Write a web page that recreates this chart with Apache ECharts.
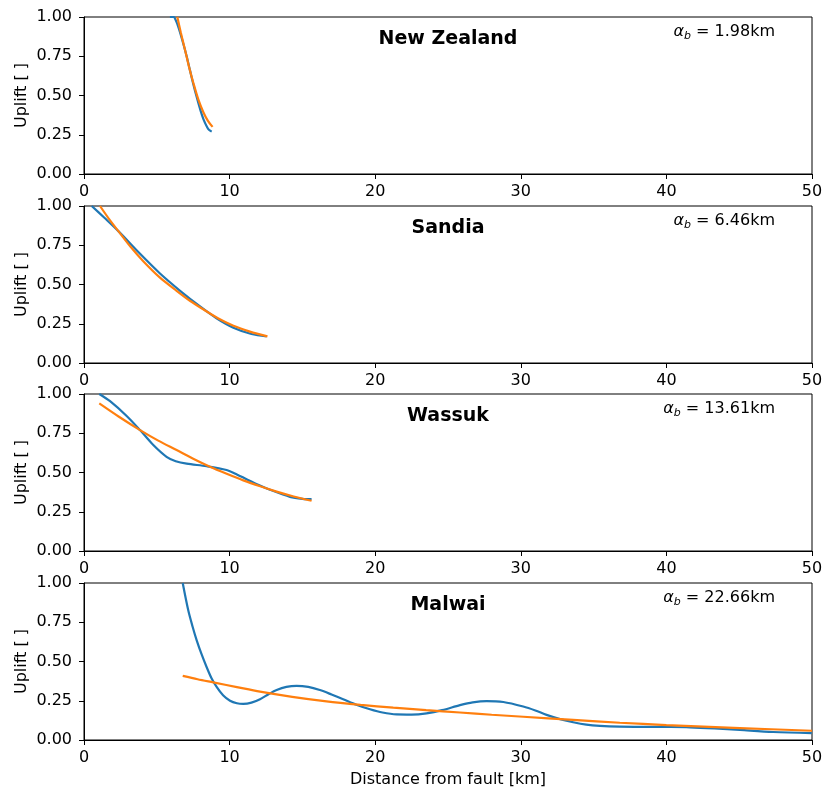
<!DOCTYPE html>
<html>
<head>
<meta charset="utf-8">
<script src="https://cdn.jsdelivr.net/npm/echarts@6/dist/echarts.min.js"></script>
<style>
  html, body { margin: 0; padding: 0; background: #fff; }
  #chart { width: 822px; height: 791px; }
</style>
</head>
<body>
<div id="chart"></div>
<script>
// panel names and fitted alpha_b values
const panelNames = ['New Zealand', 'Sandia', 'Wassuk', 'Malwai'];
const alphaLabels = ['1.98', '6.46', '13.61', '22.66'];

// observed uplift profiles (blue), [distance km, uplift]
const nzObserved = [[5.9, 1.0], [6.15, 1.0], [6.3, 0.98], [6.5, 0.93], [6.82, 0.83], [7.05, 0.75], [7.28, 0.66], [7.5, 0.575], [7.74, 0.49], [8.0, 0.405], [8.2, 0.35], [8.45, 0.3], [8.6, 0.28], [8.77, 0.27]];
const sandiaObserved = [[0.53, 1.0], [1.4, 0.925], [2.36, 0.84], [3.8, 0.7], [5.22, 0.57], [6.6, 0.46], [7.97, 0.36], [9.1, 0.285], [10.26, 0.225], [11.5, 0.185], [12.54, 0.17]];
const wassukObserved = [[1.05, 1.0], [1.79, 0.954], [2.93, 0.86], [3.85, 0.77], [4.76, 0.675], [5.67, 0.6], [6.3, 0.572], [7.05, 0.556], [8.42, 0.54], [9.79, 0.516], [10.5, 0.488], [11.17, 0.457], [12.0, 0.42], [12.77, 0.39], [14.15, 0.345], [15.0, 0.332], [15.63, 0.33]];
const malwaiObserved = [[6.78, 1.0], [7.16, 0.826], [7.45, 0.725], [7.74, 0.635], [8.1, 0.54], [8.42, 0.465], [8.75, 0.395], [9.11, 0.338], [9.55, 0.285], [10.03, 0.25], [10.5, 0.234], [10.94, 0.23], [11.5, 0.238], [12.09, 0.26], [12.65, 0.29], [13.23, 0.318], [13.9, 0.338], [14.6, 0.345], [15.4, 0.338], [16.2, 0.318], [17.0, 0.29], [17.8, 0.26], [18.7, 0.225], [19.64, 0.196], [20.5, 0.175], [21.47, 0.163], [22.5, 0.162], [23.53, 0.17], [24.6, 0.19], [25.82, 0.222], [26.7, 0.24], [27.65, 0.248], [28.8, 0.242], [30.17, 0.213], [31.0, 0.188], [31.77, 0.16], [32.7, 0.133], [33.6, 0.113], [34.5, 0.098], [35.44, 0.09], [36.8, 0.085], [38.19, 0.084], [40.0, 0.083], [41.6, 0.081], [43.3, 0.074], [45.05, 0.064], [47.34, 0.051], [49.98, 0.044]];

// fitted curves (orange)
const nzFit = [[6.41, 1.0], [6.65, 0.9], [6.94, 0.79], [7.22, 0.68], [7.51, 0.58], [7.85, 0.475], [8.19, 0.395], [8.5, 0.34], [8.83, 0.30]];
const sandiaFit = [[1.1, 1.0], [1.7, 0.92], [2.36, 0.84], [3.2, 0.74], [4.07, 0.648], [5.2, 0.545], [6.36, 0.46], [7.3, 0.395], [8.19, 0.342], [9.2, 0.285], [10.26, 0.237], [11.4, 0.2], [12.6, 0.17]];
const wassukFit = [[1.05, 0.94], [2.4, 0.855], [3.85, 0.77], [5.1, 0.703], [6.36, 0.643], [7.5, 0.588], [8.65, 0.537], [9.8, 0.492], [10.94, 0.45], [12.1, 0.412], [13.23, 0.378], [14.4, 0.347], [15.63, 0.32]];
const malwaiFit = [[6.78, 0.408], [7.8, 0.387], [8.88, 0.367], [10.5, 0.337], [12.09, 0.308], [14.3, 0.275], [16.66, 0.246], [19.0, 0.224], [21.24, 0.206], [23.5, 0.19], [25.82, 0.175], [28.0, 0.161], [30.17, 0.148], [33.6, 0.128], [36.8, 0.11], [40.0, 0.095], [45.05, 0.076], [50.0, 0.059]];

const observed = [nzObserved, sandiaObserved, wassukObserved, malwaiObserved];
const fitted = [nzFit, sandiaFit, wassukFit, malwaiFit];

const gridTops = [17, 206, 394, 583];
const gridHeight = 157;
const font = 'DejaVu Sans';

const chart = echarts.init(document.getElementById('chart'), null, { renderer: 'canvas' });

const grids = [], xAxes = [], yAxes = [], series = [], titles = [];
panelNames.forEach((name, i) => {
  grids.push({
    left: 84, width: 728, top: gridTops[i], height: gridHeight,
    outerBoundsMode: 'none', containLabel: false,
    show: true, borderColor: '#000', borderWidth: 1, backgroundColor: 'transparent'
  });
  xAxes.push({
    type: 'value', gridIndex: i, min: 0, max: 50, interval: 10,
    axisLine: { show: true, onZero: false, lineStyle: { color: '#000', width: 1 } },
    axisTick: { show: true, length: 5, inside: false, lineStyle: { color: '#000' } },
    axisLabel: { color: '#000', fontSize: 16, fontFamily: font, margin: 10 },
    splitLine: { show: false },
    name: i === 3 ? 'Distance from fault [km]' : '',
    nameLocation: 'middle', nameGap: 32, nameMoveOverlap: false,
    nameTextStyle: { color: '#000', fontSize: 16, fontFamily: font }
  });
  yAxes.push({
    type: 'value', gridIndex: i, min: 0, max: 1, interval: 0.25,
    axisLine: { show: true, lineStyle: { color: '#000', width: 1 } },
    axisTick: { show: true, length: 5, lineStyle: { color: '#000' } },
    axisLabel: { color: '#000', fontSize: 16, fontFamily: font, margin: 12, formatter: v => v.toFixed(2) },
    splitLine: { show: false },
    name: 'Uplift [ ]', nameLocation: 'middle', nameGap: 54, nameRotate: 90, nameMoveOverlap: false,
    nameTextStyle: { color: '#000', fontSize: 16, fontFamily: font }
  });
  series.push({
    type: 'line', xAxisIndex: i, yAxisIndex: i, data: observed[i],
    smooth: 0.3, showSymbol: false, symbol: 'none', clip: true,
    lineStyle: { color: '#1f77b4', width: 2.2 }
  });
  series.push({
    type: 'line', xAxisIndex: i, yAxisIndex: i, data: fitted[i],
    smooth: 0.3, showSymbol: false, symbol: 'none', clip: true,
    lineStyle: { color: '#ff7f0e', width: 2.2 }
  });
  titles.push({
    text: name, left: 448, top: gridTops[i] + 13, textAlign: 'center', padding: 0,
    textStyle: { fontFamily: font, fontSize: 19, fontWeight: 'bold', color: '#000' }
  });
  titles.push({
    text: '{a|α}{s|b}{t| = ' + alphaLabels[i] + 'km}',
    left: 775, top: gridTops[i] + 5, textAlign: 'right', padding: 0,
    textStyle: {
      fontWeight: 'normal',
      rich: {
        a: { fontFamily: font, fontSize: 16, fontStyle: 'italic', fontWeight: 'normal', color: '#000', lineHeight: 20 },
        s: { fontFamily: font, fontSize: 11, fontStyle: 'italic', fontWeight: 'normal', color: '#000', padding: [9, 0, 0, 0], lineHeight: 20 },
        t: { fontFamily: font, fontSize: 16, fontWeight: 'normal', color: '#000', lineHeight: 20 }
      }
    }
  });
});

chart.setOption({
  animation: false,
  backgroundColor: '#fff',
  title: titles,
  grid: grids,
  xAxis: xAxes,
  yAxis: yAxes,
  series: series
});
</script>
</body>
</html>
